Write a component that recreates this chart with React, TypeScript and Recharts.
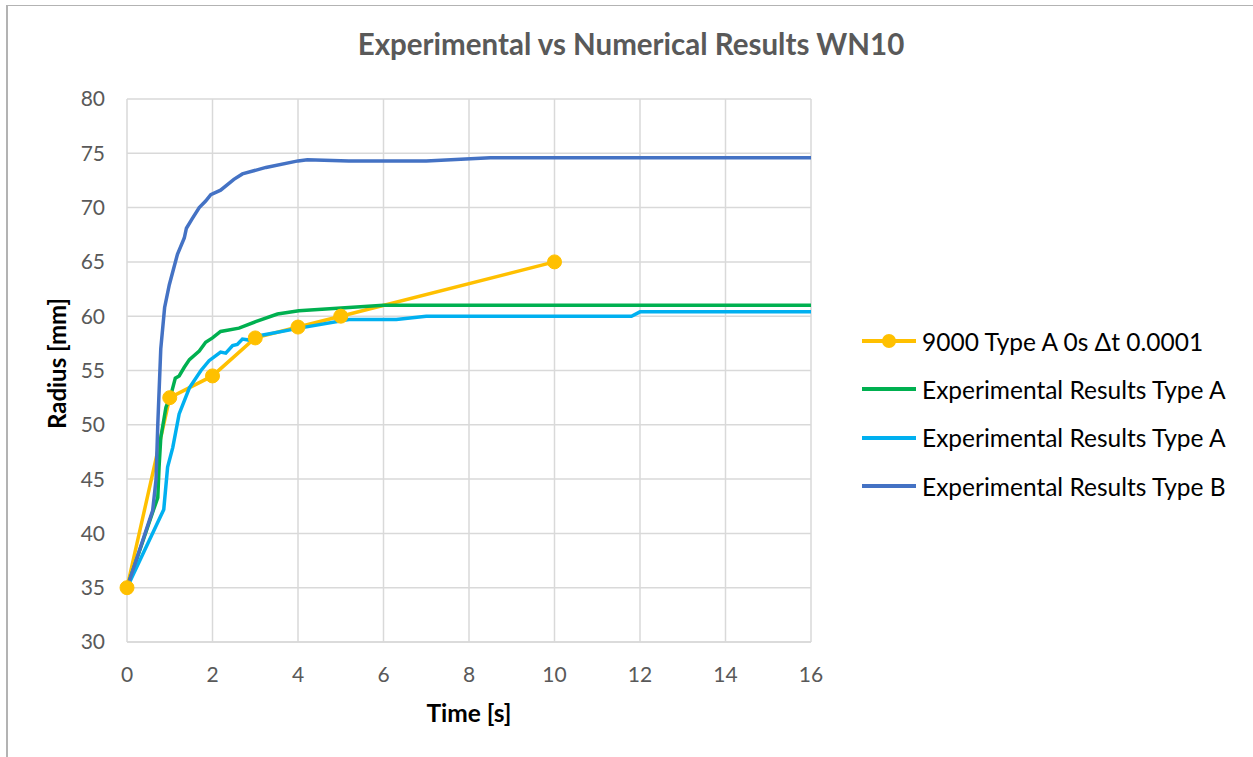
import { LineChart, Line, XAxis, YAxis, CartesianGrid, Label } from "recharts";

const FONT = "Lato, 'Open Sans', sans-serif";
const GRID = "#d9d9d9";
const TICK = "#595959";

const YELLOW = "#FFC000";
const GREEN = "#00B050";
const LIGHT_BLUE = "#00B0F0";
const DARK_BLUE = "#4472C4";

const TITLE = "Experimental vs Numerical Results WN10";
const X_TITLE = "Time [s]";
const Y_TITLE = "Radius [mm]";

const X_TICKS = [0, 2, 4, 6, 8, 10, 12, 14, 16];
const Y_TICKS = [30, 35, 40, 45, 50, 55, 60, 65, 70, 75, 80];

// numerical run
const SIM_T = [0, 1, 2, 3, 4, 5, 10];
const SIM_R = [35, 52.5, 54.5, 58, 59, 60, 65];

// experiment, type A (green)
const EXP_A1_T = [0, 0.64, 0.72, 0.75, 0.79, 0.91, 1.03, 1.13, 1.22, 1.34, 1.46, 1.69, 1.84, 2.0, 2.19, 2.62, 3.01, 3.52, 4.02, 5.19, 6.0, 8, 10, 12, 14, 16];
const EXP_A1_R = [35, 42.4, 43.3, 46.1, 48.8, 51.6, 52.8, 54.3, 54.5, 55.3, 56.0, 56.8, 57.6, 58.0, 58.6, 58.9, 59.5, 60.2, 60.5, 60.8, 61.0, 61.0, 61.0, 61.0, 61.0, 61.0];

// experiment, type A (light blue)
const EXP_A2_T = [0, 0.86, 0.95, 1.07, 1.22, 1.46, 1.73, 1.92, 2.19, 2.31, 2.47, 2.58, 2.7, 2.86, 3.09, 4.03, 5.19, 6.3, 7.0, 9, 11.8, 12.0, 14, 16];
const EXP_A2_R = [35, 42.2, 46.1, 47.9, 51, 53.4, 55, 55.9, 56.7, 56.6, 57.3, 57.4, 57.9, 57.8, 58.2, 58.9, 59.7, 59.7, 60.0, 60.0, 60.0, 60.4, 60.4, 60.4];

// experiment, type B (dark blue)
const EXP_B_T = [0, 0.6, 0.68, 0.72, 0.79, 0.88, 0.99, 1.18, 1.34, 1.39, 1.53, 1.69, 1.84, 1.96, 2.19, 2.5, 2.7, 3.25, 4.0, 4.22, 5.19, 7.0, 8.5, 10, 12, 14, 16];
const EXP_B_R = [35, 42.1, 45, 50, 57.0, 60.8, 62.9, 65.7, 67.2, 68.1, 69.0, 70, 70.6, 71.2, 71.6, 72.6, 73.1, 73.7, 74.3, 74.4, 74.3, 74.3, 74.6, 74.6, 74.6, 74.6, 74.6];

const LEGEND = [
  { name: "9000 Type A 0s \u0394t 0.0001", color: YELLOW, dot: true },
  { name: "Experimental Results Type A", color: GREEN, dot: false },
  { name: "Experimental Results Type A", color: LIGHT_BLUE, dot: false },
  { name: "Experimental Results Type B", color: DARK_BLUE, dot: false },
];

const zip = (t: number[], r: number[]) => t.map((x, i) => ({ t: x, r: r[i] }));

export default function App() {
  return (
    <div
      style={{
        position: "absolute",
        left: 0,
        top: 0,
        width: 1253,
        height: 757,
        background: "#fff",
        fontFamily: FONT,
        overflow: "hidden",
      }}
    >
      <div
        style={{
          position: "absolute",
          left: 0,
          width: 1262,
          top: 26,
          textAlign: "center",
          fontSize: 29.5,
          fontWeight: 700,
          color: TICK,
        }}
      >
        {TITLE}
      </div>

      <div style={{ position: "absolute", left: 0, top: 0 }}>
        <LineChart
          width={1253}
          height={757}
          margin={{ top: 99, right: 442, bottom: 0, left: 0 }}
          style={{ fontFamily: FONT }}
        >
          <CartesianGrid stroke={GRID} strokeWidth={1.5} />
          <XAxis
            type="number"
            dataKey="t"
            domain={[0, 16]}
            ticks={X_TICKS}
            height={115}
            tickSize={0}
            tickMargin={25}
            tick={{ fill: TICK, fontSize: 21 }}
            axisLine={{ stroke: GRID, strokeWidth: 1.5 }}
            allowDuplicatedCategory={false}
          >
            <Label
              content={({ viewBox }: any) => (
                <text
                  x={viewBox.x + viewBox.width / 2}
                  y={viewBox.y + 80}
                  textAnchor="middle"
                  fontSize={24.5}
                  fontWeight={700}
                  fill="#000"
                >
                  {X_TITLE}
                </text>
              )}
            />
          </XAxis>
          <YAxis
            type="number"
            dataKey="r"
            domain={[30, 80]}
            ticks={Y_TICKS}
            width={127}
            tickSize={0}
            tickMargin={22}
            tick={{ fill: TICK, fontSize: 21 }}
            axisLine={false}
          >
            <Label
              content={({ viewBox }: any) => {
                const cx = 66;
                const cy = viewBox.y + viewBox.height / 2 - 7;
                return (
                  <text
                    x={cx}
                    y={cy}
                    transform={`rotate(-90 ${cx} ${cy})`}
                    textAnchor="middle"
                    fontSize={24}
                    fontWeight={700}
                    fill="#000"
                  >
                    {Y_TITLE}
                  </text>
                );
              }}
            />
          </YAxis>
          <Line
            data={zip(SIM_T, SIM_R)}
            dataKey="r"
            type="linear"
            stroke={YELLOW}
            strokeWidth={3.5}
            dot={{ r: 7, fill: YELLOW, stroke: YELLOW, strokeWidth: 1 }}
            isAnimationActive={false}
          />
          <Line
            data={zip(EXP_A1_T, EXP_A1_R)}
            dataKey="r"
            type="linear"
            stroke={GREEN}
            strokeWidth={3.5}
            dot={false}
            isAnimationActive={false}
          />
          <Line
            data={zip(EXP_A2_T, EXP_A2_R)}
            dataKey="r"
            type="linear"
            stroke={LIGHT_BLUE}
            strokeWidth={3.5}
            dot={false}
            isAnimationActive={false}
          />
          <Line
            data={zip(EXP_B_T, EXP_B_R)}
            dataKey="r"
            type="linear"
            stroke={DARK_BLUE}
            strokeWidth={3.5}
            dot={false}
            isAnimationActive={false}
          />
        </LineChart>
      </div>

      <div style={{ position: "absolute", left: 862, top: 317 }}>
        {LEGEND.map((item, i) => (
          <div
            key={i}
            style={{ display: "flex", alignItems: "center", height: 48.3, fontSize: 24.5, color: "#000" }}
          >
            <svg width={60} height={20}>
              <line x1={0} y1={10} x2={54} y2={10} stroke={item.color} strokeWidth={4} />
              {item.dot && <circle cx={27} cy={10} r={7} fill={item.color} />}
            </svg>
            <span style={{ whiteSpace: "nowrap" }}>{item.name}</span>
          </div>
        ))}
      </div>

      {/* outer chart border */}
      <div
        style={{
          position: "absolute",
          left: 6,
          top: 5,
          width: 1300,
          height: 800,
          borderTop: "1px solid #b3b3b3",
          borderLeft: "2px solid #b3b3b3",
          pointerEvents: "none",
          zIndex: 5,
        }}
      />
    </div>
  );
}
